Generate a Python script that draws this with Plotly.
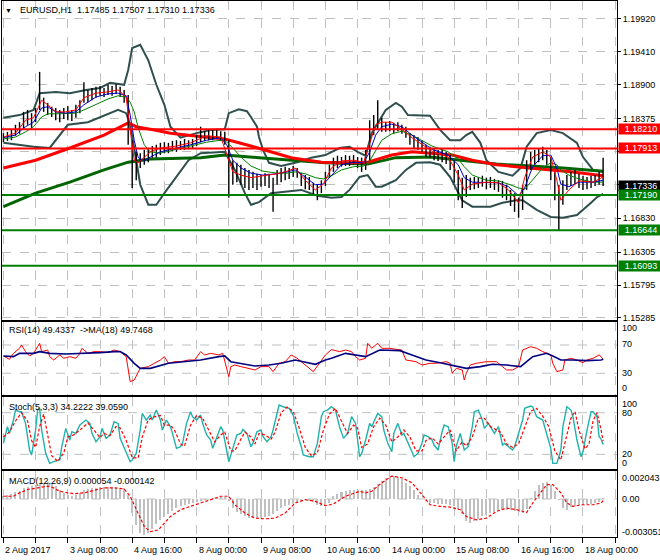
import plotly.graph_objects as go

# ---------------- data (EURUSD H1, 2 Aug - 18 Aug 2017) ----------------
# x values are bar numbers (hours of trading) counted from 2 Aug 2017 00:00
bar_index = list(range(0, 300, 2))
bar_high = [1.1815,1.1817,1.1820,1.1828,1.1832,1.1848,1.1851,1.1846,1.1854,1.1910,
            1.1870,1.1862,1.1856,1.1854,1.1851,1.1854,1.1857,1.1851,1.1859,1.1866,
            1.1894,1.1882,1.1885,1.1887,1.1888,1.1885,1.1890,1.1888,1.1891,1.1887,
            1.1882,1.1874,1.1804,1.1786,1.1784,1.1789,1.1792,1.1795,1.1797,1.1800,
            1.1801,1.1800,1.1803,1.1804,1.1803,1.1806,1.1804,1.1806,1.1812,1.1825,
            1.1818,1.1820,1.1821,1.1820,1.1818,1.1817,1.1804,1.1773,1.1769,1.1766,
            1.1761,1.1758,1.1755,1.1752,1.1750,1.1753,1.1752,1.1746,1.1758,1.1761,
            1.1763,1.1761,1.1764,1.1761,1.1753,1.1750,1.1747,1.1738,1.1735,1.1742,
            1.1755,1.1766,1.1777,1.1780,1.1778,1.1781,1.1780,1.1781,1.1778,1.1777,
            1.1789,1.1835,1.1843,1.1866,1.1839,1.1832,1.1834,1.1831,1.1832,1.1828,
            1.1825,1.1815,1.1812,1.1809,1.1804,1.1797,1.1794,1.1792,1.1789,1.1790,
            1.1786,1.1781,1.1773,1.1758,1.1746,1.1750,1.1746,1.1747,1.1746,1.1749,
            1.1746,1.1747,1.1744,1.1742,1.1741,1.1735,1.1727,1.1722,1.1715,1.1735,
            1.1773,1.1786,1.1789,1.1792,1.1794,1.1789,1.1778,1.1755,1.1735,1.1742,
            1.1750,1.1755,1.1758,1.1752,1.1749,1.1747,1.1749,1.1750,1.1755,1.1777]
bar_low = [1.1801,1.1803,1.1804,1.1811,1.1814,1.1823,1.1828,1.1823,1.1832,1.1851,
           1.1848,1.1843,1.1840,1.1835,1.1832,1.1837,1.1835,1.1834,1.1839,1.1846,
           1.1862,1.1863,1.1866,1.1870,1.1873,1.1871,1.1874,1.1873,1.1876,1.1871,
           1.1862,1.1797,1.1730,1.1742,1.1761,1.1766,1.1770,1.1777,1.1777,1.1781,
           1.1784,1.1784,1.1787,1.1786,1.1789,1.1789,1.1790,1.1792,1.1795,1.1801,
           1.1803,1.1804,1.1804,1.1806,1.1803,1.1797,1.1715,1.1735,1.1739,1.1735,
           1.1730,1.1727,1.1730,1.1727,1.1732,1.1733,1.1730,1.1693,1.1735,1.1739,
           1.1742,1.1744,1.1747,1.1746,1.1733,1.1728,1.1727,1.1718,1.1711,1.1722,
           1.1733,1.1746,1.1755,1.1761,1.1763,1.1764,1.1764,1.1766,1.1761,1.1755,
           1.1758,1.1773,1.1812,1.1820,1.1817,1.1817,1.1818,1.1815,1.1818,1.1814,
           1.1808,1.1797,1.1792,1.1789,1.1786,1.1778,1.1777,1.1773,1.1772,1.1770,
           1.1767,1.1758,1.1738,1.1711,1.1699,1.1716,1.1727,1.1728,1.1730,1.1732,
           1.1728,1.1730,1.1727,1.1724,1.1715,1.1711,1.1702,1.1693,1.1684,1.1696,
           1.1727,1.1758,1.1766,1.1770,1.1773,1.1766,1.1742,1.1711,1.1665,1.1704,
           1.1727,1.1733,1.1736,1.1730,1.1727,1.1728,1.1730,1.1733,1.1735,1.1733]

ma_index = [0,6,11,15,19,22,26,31,36,40,46,52,57,61,63,65,67,70,73,78,
            86,93,101,108,111,114,118,123,129,136,141,145,150,155,159,163,168,174,179,182,
            185,188,193,198,203,213,221,226,229,233,240,246,251,256,259,263,268,272,275,277,
            281,286,293,298]
ma_fast = [1.1809,1.1815,1.1835,1.1839,1.1866,1.1859,1.1848,1.1848,1.1851,1.1870,
           1.1877,1.1879,1.1882,1.1871,1.1820,1.1773,1.1769,1.1777,1.1786,1.1792,
           1.1795,1.1800,1.1811,1.1809,1.1781,1.1755,1.1750,1.1746,1.1749,1.1752,
           1.1756,1.1761,1.1742,1.1727,1.1736,1.1761,1.1772,1.1773,1.1770,1.1801,
           1.1828,1.1832,1.1832,1.1821,1.1808,1.1787,1.1778,1.1750,1.1727,1.1736,
           1.1739,1.1738,1.1727,1.1707,1.1746,1.1778,1.1786,1.1778,1.1742,1.1711,
           1.1727,1.1741,1.1739,1.1747]
ma_mid = [1.1808,1.1812,1.1825,1.1832,1.1854,1.1856,1.1848,1.1846,1.1848,1.1859,
          1.1871,1.1876,1.1877,1.1873,1.1843,1.1804,1.1777,1.1772,1.1778,1.1786,
          1.1792,1.1797,1.1804,1.1808,1.1797,1.1773,1.1761,1.1753,1.1750,1.1752,
          1.1755,1.1758,1.1747,1.1735,1.1736,1.1750,1.1766,1.1770,1.1769,1.1786,
          1.1812,1.1825,1.1829,1.1825,1.1812,1.1790,1.1781,1.1766,1.1746,1.1739,
          1.1739,1.1738,1.1732,1.1718,1.1730,1.1763,1.1780,1.1781,1.1761,1.1736,
          1.1732,1.1739,1.1739,1.1742]
ma_slow = [1.1806,1.1809,1.1817,1.1825,1.1840,1.1845,1.1845,1.1845,1.1846,1.1851,
           1.1860,1.1868,1.1873,1.1871,1.1863,1.1848,1.1823,1.1797,1.1786,1.1784,
           1.1790,1.1795,1.1801,1.1804,1.1801,1.1792,1.1778,1.1764,1.1756,1.1753,
           1.1753,1.1755,1.1752,1.1746,1.1744,1.1749,1.1758,1.1763,1.1764,1.1772,
           1.1789,1.1804,1.1814,1.1818,1.1812,1.1795,1.1786,1.1775,1.1763,1.1750,
           1.1742,1.1741,1.1736,1.1730,1.1728,1.1742,1.1761,1.1769,1.1766,1.1758,
           1.1750,1.1744,1.1739,1.1739]

long_red_index = [0,16,33,50,62,66,75,83,100,110,123,133,143,158,171,181,193,203,223,233,245,268,282,298]
long_red = [1.1761,1.1773,1.1792,1.1812,1.1831,1.1825,1.1820,1.1815,1.1809,1.1806,1.1795,1.1786,
            1.1777,1.1770,1.1769,1.1770,1.1781,1.1786,1.1781,1.1773,1.1766,1.1759,1.1755,1.1749]
long_green_index = [0,16,33,50,62,73,98,110,127,143,160,181,195,212,228,245,262,278,298]
long_green = [1.1701,1.1722,1.1739,1.1758,1.1770,1.1775,1.1777,1.1781,1.1777,1.1773,
              1.1769,1.1767,1.1777,1.1778,1.1773,1.1767,1.1764,1.1761,1.1756]

bb_upper_index = [0,8,15,18,26,33,41,48,53,60,62,64,68,72,76,80,83,88,96,103,
                  110,112,117,121,123,126,127,129,132,138,146,153,160,167,172,176,180,183,190,195,
                  198,201,212,217,222,227,230,233,237,240,246,253,257,260,265,272,278,285,288,293,298]
bb_upper = [1.1839,1.1843,1.1851,1.1877,1.1879,1.1877,1.1882,1.1885,1.1893,1.1890,
            1.1913,1.1947,1.1952,1.1928,1.1890,1.1859,1.1825,1.1808,1.1815,1.1820,
            1.1821,1.1846,1.1852,1.1849,1.1840,1.1825,1.1809,1.1789,1.1769,1.1764,
            1.1770,1.1777,1.1781,1.1792,1.1794,1.1786,1.1780,1.1815,1.1851,1.1862,
            1.1856,1.1843,1.1842,1.1820,1.1804,1.1804,1.1812,1.1817,1.1800,1.1773,
            1.1755,1.1749,1.1761,1.1794,1.1815,1.1820,1.1815,1.1800,1.1778,1.1758,1.1755]
bb_lower_index = [0,15,23,28,32,42,48,57,61,63,66,68,72,76,80,86,92,98,110,115,
                  120,123,127,133,148,156,163,168,172,177,181,185,188,195,200,205,212,217,222,228,
                  233,242,248,255,258,265,272,278,285,292,295,298]
bb_lower = [1.1800,1.1794,1.1792,1.1812,1.1828,1.1832,1.1840,1.1851,1.1846,1.1828,
            1.1773,1.1735,1.1704,1.1704,1.1722,1.1747,1.1773,1.1784,1.1786,1.1758,
            1.1722,1.1704,1.1708,1.1722,1.1727,1.1718,1.1715,1.1716,1.1727,1.1747,
            1.1750,1.1732,1.1732,1.1742,1.1758,1.1769,1.1770,1.1766,1.1747,1.1711,
            1.1701,1.1701,1.1707,1.1711,1.1711,1.1696,1.1685,1.1684,1.1688,1.1707,
            1.1716,1.1721]

res_levels = [1.18210, 1.17913]
sup_levels = [1.17190, 1.16644, 1.16093]
last_price = 1.17336
price_ticks = [1.19920, 1.19410, 1.18900, 1.18375, 1.17865, 1.17350, 1.16830, 1.16305, 1.15795, 1.15285]
hidden_ticks = [1.17865, 1.17350]   # these axis labels sit under the price boxes

rsi_index = [0,3,5,8,9,11,13,15,17,18,19,22,23,25,28,30,33,36,38,39,42,45,48,52,55,58,61,62,63,65,
             67,68,72,75,78,80,82,85,88,92,95,98,100,103,107,109,112,113,115,118,122,125,128,132,134,137,140,143,146,148,
             152,154,157,160,163,167,170,173,175,177,180,181,183,186,188,192,195,198,200,205,208,212,215,220,222,223,225,228,229,230,
             232,235,240,245,248,250,253,256,258,262,265,268,272,273,275,278,279,282,285,288,290,293,296,297,298]
rsi = [54.5,49.7,58.2,65.3,70.0,60.6,54.5,58.2,67.6,72.4,60.6,62.9,53.5,48.8,55.9,51.2,53.5,51.2,58.2,65.3,
       58.2,60.6,60.6,59.2,62.9,60.6,53.5,34.7,18.2,20.5,32.3,37.0,39.4,44.1,48.8,53.5,44.1,46.4,46.4,48.8,
       48.8,60.6,55.9,58.2,55.9,58.2,25.2,39.4,41.7,39.4,37.0,34.7,39.4,39.4,32.3,44.1,46.4,55.9,51.2,46.4,
       37.0,32.3,44.1,55.9,63.5,60.6,62.9,60.6,53.5,48.8,51.2,72.4,65.3,72.4,65.3,65.3,63.9,62.9,48.8,46.4,
       41.7,44.1,44.1,46.4,44.1,30.0,37.0,34.7,20.5,30.0,41.7,44.1,46.4,46.4,39.4,34.7,34.7,39.4,62.9,67.6,
       65.3,60.6,55.9,44.1,32.3,34.7,48.8,51.2,48.8,45.0,48.8,51.2,55.9,53.5,49.4]
rsi_ma_index = [0,5,8,15,18,23,31,42,48,55,58,61,65,68,73,82,90,98,107,110,113,118,125,132,138,145,152,155,160,163,
                170,180,187,197,203,210,217,223,230,237,243,250,257,263,270,273,277,283,290,297,298]
rsi_ma = [54.5,53.5,58.2,58.2,60.6,58.2,57.3,58.2,59.2,60.6,60.6,55.9,44.1,37.0,37.0,44.1,46.4,48.8,53.5,54.5,
          46.4,44.1,40.3,41.7,44.1,48.8,45.0,42.7,48.8,51.2,58.2,53.5,62.9,62.0,55.9,48.8,45.0,41.7,37.0,39.4,
          42.7,41.7,39.4,53.5,58.2,54.5,48.8,48.8,47.9,48.8,49.7]

stoch_index = [0,2,3,5,6,8,9,11,13,14,16,17,18,19,21,23,25,28,29,31,33,34,36,38,41,43,44,46,48,49,
               51,53,55,57,58,61,63,64,66,68,69,71,73,74,76,78,79,81,83,84,86,88,89,91,93,94,96,98,99,101,
               103,104,106,108,109,111,112,114,116,118,119,121,123,124,126,128,129,131,133,134,137,139,142,144,146,148,149,152,154,156,
               158,159,161,163,165,167,169,171,173,175,177,178,180,182,183,186,188,189,191,193,194,196,198,199,201,203,204,206,208,209,
               211,213,214,216,218,219,221,223,224,225,227,229,231,233,234,236,238,239,241,243,244,246,248,249,251,253,254,256,258,259,
               262,263,265,268,270,272,273,275,277,278,280,282,283,285,287,288,290,292,293,295,296,297,298]
stoch_main = [35.8,59.8,50.2,69.4,83.8,81.4,81.4,64.6,26.2,19.0,55.0,83.8,86.2,55.0,21.4,7.0,9.4,11.8,31.0,57.4,
              40.6,52.6,50.2,62.2,69.4,64.6,50.2,38.2,45.4,57.4,43.0,47.8,67.0,64.6,43.0,21.4,9.4,11.8,21.4,55.0,
              79.0,69.4,76.6,69.4,83.8,69.4,55.0,69.4,59.8,50.2,28.6,31.0,35.8,64.6,81.4,74.2,69.4,76.6,64.6,47.8,
              40.6,28.6,45.4,59.8,55.0,26.2,9.4,28.6,47.8,50.2,56.0,50.2,31.0,35.8,52.6,55.0,45.4,38.2,45.4,55.0,
              91.0,88.6,86.2,76.6,50.2,31.0,19.0,16.6,16.6,35.8,74.2,81.4,83.8,88.6,83.8,59.8,43.0,50.2,74.2,64.6,
              16.6,21.4,40.6,64.6,59.8,79.0,74.2,55.0,35.8,23.8,50.2,64.6,47.8,50.2,38.2,23.8,16.6,21.4,35.8,47.8,
              45.4,40.6,33.4,26.2,52.6,62.2,59.8,35.8,9.4,31.0,50.2,26.2,31.0,59.8,81.4,83.8,69.4,57.4,64.6,55.0,
              50.2,59.8,33.4,35.8,31.0,26.2,31.0,50.2,69.4,86.2,89.6,88.6,74.2,69.4,50.2,28.6,7.0,7.0,26.2,59.8,
              88.6,83.8,74.2,40.6,16.6,23.8,55.0,81.4,81.4,74.2,45.4,42.0,34.2]
stoch_sig_index = [0,3,6,9,12,14,16,18,20,22,24,27,30,32,35,38,42,45,48,50,53,56,58,61,64,67,69,72,75,78,
                   80,83,85,88,90,93,96,99,102,105,108,110,113,115,118,120,123,125,127,130,133,135,138,141,144,147,150,153,156,159,
                   162,165,168,171,174,176,178,181,184,187,190,193,196,199,202,205,208,210,213,216,219,222,225,228,230,233,236,239,242,245,
                   247,250,253,256,259,262,265,268,271,274,277,279,282,284,286,289,291,293,295,297,298]
stoch_signal = [45,52,68,80,68,40,30,60,78,45,18,10,22,45,48,55,65,55,44,50,47,60,58,40,15,15,45,70,74,76,
                62,62,55,35,32,62,76,72,55,38,48,52,25,25,42,52,45,35,50,48,42,52,80,88,82,58,30,18,22,55,
                78,86,68,50,62,58,30,35,60,72,62,38,45,55,45,25,25,40,44,35,45,55,25,38,32,45,72,72,60,55,
                52,35,30,35,60,82,86,75,60,25,12,35,72,82,55,28,35,68,80,55,39.06]

macd_index = list(range(0, 300, 2))
macd_hist = [0.00022,0.00030,0.00038,0.00054,0.00068,0.00086,0.00097,0.00103,0.00113,0.00122,
             0.00130,0.00135,0.00127,0.00103,0.00073,0.00051,0.00032,0.00027,0.00032,0.00051,
             0.00073,0.00084,0.00089,0.00092,0.00095,0.00095,0.00095,0.00095,0.00095,0.00092,
             0.00089,0.00035,-0.00113,-0.00208,-0.00275,-0.00289,-0.00275,-0.00243,-0.00200,-0.00167,
             -0.00143,-0.00119,-0.00095,-0.00073,-0.00059,-0.00046,-0.00038,-0.00030,-0.00022,-0.00016,
             -0.00008,0.00000,0.00005,0.00011,0.00014,0.00011,-0.00011,-0.00076,-0.00103,-0.00122,
             -0.00135,-0.00149,-0.00154,-0.00154,-0.00151,-0.00146,-0.00135,-0.00122,-0.00100,-0.00076,
             -0.00059,-0.00049,-0.00038,-0.00024,-0.00014,-0.00005,-0.00011,-0.00022,-0.00049,-0.00059,
             -0.00046,-0.00032,0.00022,0.00038,0.00057,0.00068,0.00073,0.00076,0.00076,0.00073,
             0.00070,0.00081,0.00095,0.00122,0.00143,0.00167,0.00181,0.00184,0.00176,0.00157,
             0.00132,0.00103,0.00076,0.00035,0.00000,-0.00019,-0.00032,-0.00035,-0.00038,-0.00041,
             -0.00043,-0.00046,-0.00054,-0.00081,-0.00119,-0.00178,-0.00194,-0.00178,-0.00162,-0.00140,
             -0.00127,-0.00113,-0.00105,-0.00100,-0.00092,-0.00086,-0.00092,-0.00100,-0.00108,-0.00113,
             -0.00081,0.00008,0.00062,0.00111,0.00130,0.00135,0.00116,0.00062,-0.00005,-0.00073,
             -0.00086,-0.00065,-0.00054,-0.00049,-0.00046,-0.00043,-0.00041,-0.00032,-0.00027,0.000054]
macd_sig_index = [0,5,8,12,17,22,25,28,32,35,40,45,50,55,60,63,67,70,73,77,
                  80,83,88,93,98,103,108,112,115,120,125,130,135,140,145,150,155,160,164,170,
                  177,180,183,188,193,198,203,208,212,217,222,227,230,235,240,245,250,255,260,263,
                  267,270,273,277,280,283,288,293,297,298]
macd_signal = [0.00022,0.00022,0.00049,0.00076,0.00089,0.00103,0.00089,0.00062,0.00049,0.00043,
               0.00049,0.00070,0.00089,0.00089,0.00081,0.00022,-0.00113,-0.00221,-0.00262,-0.00248,
               -0.00194,-0.00140,-0.00086,-0.00059,-0.00032,-0.00005,0.00022,0.00022,-0.00046,-0.00113,
               -0.00154,-0.00159,-0.00154,-0.00113,-0.00032,-0.00005,-0.00019,-0.00054,-0.00040,0.00022,
               0.00062,0.00049,0.00062,0.00130,0.00184,0.00170,0.00130,0.00035,-0.00046,-0.00059,
               -0.00065,-0.00086,-0.00140,-0.00167,-0.00154,-0.00100,-0.00073,-0.00086,-0.00108,-0.00032,
               0.00049,0.00116,0.00116,0.00049,-0.00032,-0.00059,-0.00046,-0.00046,-0.00032,-0.000142]

date_tick_index = [0, 32, 64, 96, 128, 160, 192, 224, 256, 288]
date_tick_text = ["2 Aug 2017", "3 Aug 08:00", "4 Aug 16:00", "8 Aug 00:00", "9 Aug 08:00",
                  "10 Aug 16:00", "14 Aug 00:00", "15 Aug 08:00", "16 Aug 16:00", "18 Aug 00:00"]

# ---------------- layout helpers ----------------
W, H = 660, 560
ML, MR, MT, MB = 2, 43, 1, 23
def py(p):
    return (H - MB - p) / (H - MB - MT)

FONT = "Liberation Sans, Arial, sans-serif"
GRID = "#C0C0C0"
SLATE = "#2F4F4F"

fig = go.Figure()

def line(x, y, color, width, ax="", dash=None):
    fig.add_trace(go.Scatter(x=x, y=y, mode="lines", hoverinfo="skip",
                             line=dict(color=color, width=width, dash=dash),
                             xaxis="x" + ax, yaxis="y" + ax, showlegend=False))

# main panel
line(bb_upper_index, bb_upper, SLATE, 2)
line(bb_lower_index, bb_lower, SLATE, 2)
line(long_green_index, long_green, "#006400", 3)
line(long_red_index, long_red, "#FF0000", 3)
bx, by = [], []
for i, lo, hi in zip(bar_index, bar_low, bar_high):
    bx += [i, i, None]
    by += [lo, hi, None]
line(bx, by, "black", 1.4)
line(ma_index, ma_slow, "#008000", 1)
line(ma_index, ma_mid, "#0000C8", 1)
line(ma_index, ma_fast, "#FF0000", 1)

# RSI
line(rsi_index, rsi, "#FF0000", 1, "2")
line(rsi_ma_index, rsi_ma, "#000080", 1.6, "2")
# Stochastic
line(stoch_index, stoch_main, "#20B2AA", 1.4, "3")
line(stoch_sig_index, stoch_signal, "#FF0000", 1.2, "3", dash="3px,2px")
# MACD
fig.add_trace(go.Bar(x=macd_index, y=macd_hist, width=1.0, marker=dict(color="#C0C0C0", line=dict(width=0)),
                     xaxis="x4", yaxis="y4", hoverinfo="skip", showlegend=False))
line(macd_sig_index, macd_signal, "#FF0000", 1.2, "4", dash="3px,2px")

# ---------------- axes ----------------
xcommon = dict(range=[-0.7, 304.9], showgrid=True, gridcolor=GRID, griddash="dash", gridwidth=1,
               tickvals=list(range(0, 305, 16)), showticklabels=False, ticks="",
               showline=True, linecolor="black", linewidth=1, mirror=True, zeroline=False, fixedrange=True)
domains = {"": [py(320), 1.0], "2": [py(395), py(322)], "3": [py(469), py(397)], "4": [0.0, py(471)]}
ranges = {"": [1.15253, 1.20199], "2": [-0.7, 102.5], "3": [-1.15, 102.6], "4": [-0.003051, 0.002248]}
lay = {}
for ax in ["", "2", "3", "4"]:
    xa = dict(xcommon, anchor="y" + ax)
    if ax == "4":
        xa.update(ticks="outside", ticklen=5, tickcolor="black", tickwidth=1)
    lay["xaxis" + ax] = xa
    ya = dict(domain=domains[ax], range=ranges[ax], side="right", anchor="x" + ax,
              showline=True, linecolor="black", linewidth=1, mirror=True, zeroline=False, fixedrange=True)
    if ax == "":
        ya.update(tickvals=price_ticks,
                  ticktext=["" if v in hidden_ticks else "%.5f" % v for v in price_ticks],
                  showgrid=True, gridcolor=GRID, griddash="dash", ticks="outside", ticklen=3,
                  tickcolor="black", tickfont=dict(family=FONT, size=9, color="black"))
    else:
        ya.update(showgrid=False, showticklabels=False, ticks="")
    lay["yaxis" + ax] = ya

shapes = []
for lv, ax in [(70, "2"), (30, "2"), (80, "3"), (20, "3"), (0, "4")]:
    shapes.append(dict(type="line", xref="paper", x0=0, x1=1, yref="y" + ax, y0=lv, y1=lv,
                       line=dict(color=GRID, width=1, dash="dash"), layer="below"))
for lv in res_levels:
    shapes.append(dict(type="line", xref="paper", x0=0, x1=1, yref="y", y0=lv, y1=lv,
                       line=dict(color="#FF0000", width=2), layer="above"))
for lv in sup_levels:
    shapes.append(dict(type="line", xref="paper", x0=0, x1=1, yref="y", y0=lv, y1=lv,
                       line=dict(color="#008000", width=2), layer="above"))

ann = []
def label(text, x, y, xref="paper", yref="paper", **kw):
    d = dict(text=text, x=x, y=y, xref=xref, yref=yref, showarrow=False, xanchor="left",
             yanchor="middle", font=dict(family=FONT, size=9, color="black"))
    d.update(kw)
    ann.append(d)

label("\u25BC", 0.0, py(10.5), xshift=1, font=dict(family=FONT, size=7, color="black"))
label("EURUSD,H1\u00a0\u00a01.17485 1.17507 1.17310 1.17336", 0.0, py(10.5), xshift=16)
label("RSI(14) 49.4337\u00a0\u00a0->MA(18) 49.7468", 0.0, py(330), xshift=5)
label("Stoch(5,3,3) 34.2222 39.0590", 0.0, py(406.5), xshift=5)
label("MACD(12,26,9) 0.000054 -0.000142", 0.0, py(481), xshift=5)

for txt, p in [("100", 328.3), ("70", 344.3), ("30", 373.3), ("0", 388.3),
               ("100", 404), ("80", 412.7), ("20", 454.3), ("0", 462.7),
               ("0.002043", 478.3), ("0.00", 499.3), ("-0.003051", 532.3)]:
    label(txt, 1.0, py(p), xshift=3)

for i, txt in zip(date_tick_index, date_tick_text):
    label(txt, i, py(550), xref="x4", xshift=0)

def box(value, bg):
    ann.append(dict(text="%.5f" % value, x=1.0, y=value, xref="paper", yref="y", showarrow=False,
                    xanchor="left", yanchor="middle", xshift=1, width=44, height=10, align="center",
                    bgcolor=bg, borderpad=0, font=dict(family=FONT, size=9, color="white")))

for lv in res_levels:
    box(lv, "#FF0000")
box(last_price, "#000000")
for lv in sup_levels:
    box(lv, "#008000")

fig.update_layout(width=W, height=H, margin=dict(l=ML, r=MR, t=MT, b=MB),
                  paper_bgcolor="white", plot_bgcolor="white", showlegend=False,
                  bargap=0, shapes=shapes, annotations=ann, **lay)

fig.write_html("out.html", include_plotlyjs=True, config={"displayModeBar": False},
               post_script="document.body.style.margin='0';")
